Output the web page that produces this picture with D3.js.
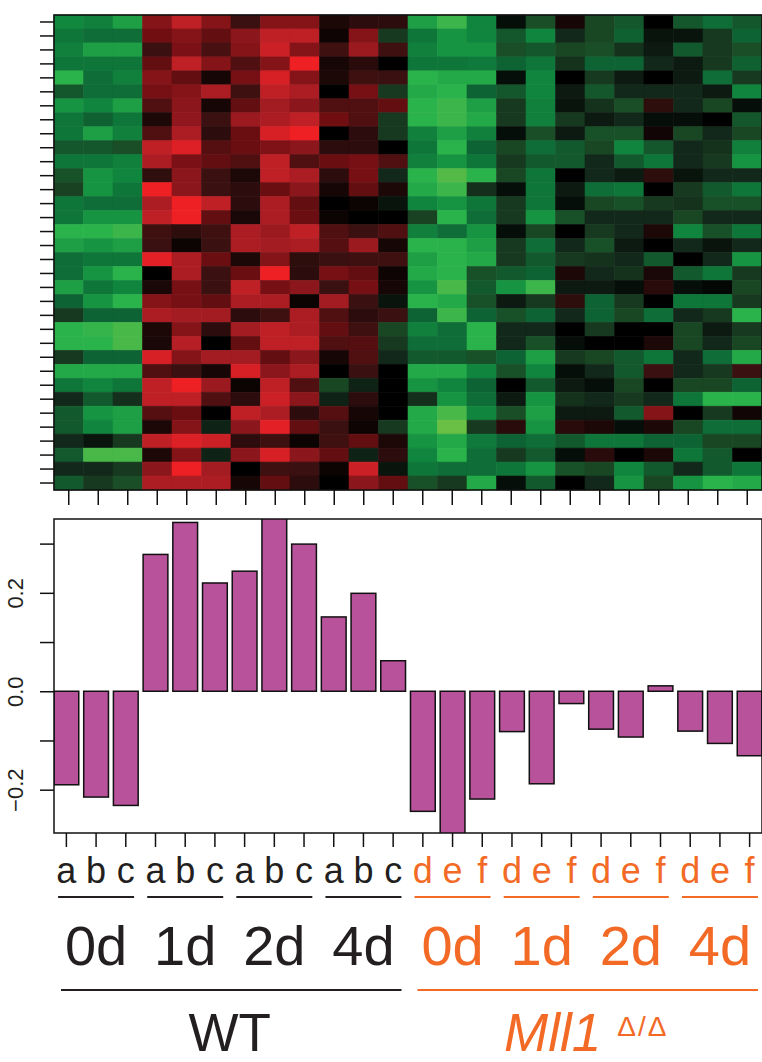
<!DOCTYPE html>
<html>
<head>
<meta charset="utf-8">
<script src="https://cdn.jsdelivr.net/npm/d3@7"></script>
<style>
  body { margin: 0; background: #fff; }
  svg { display: block; font-family: "Liberation Sans", Arial, sans-serif; }
</style>
</head>
<body>
<svg id="chart" width="762" height="1062"></svg>
<script>
// sample letters under each column / bar
const samples = ["a","b","c","a","b","c","a","b","c","a","b","c",
                 "d","e","f","d","e","f","d","e","f","d","e","f"]
const days = ["0d","1d","2d","4d","0d","1d","2d","4d"]
const genotypes = ["WT", "Mll1"]

// bar heights (second panel)
const barValues = [-0.190, -0.215, -0.232, 0.278, 0.343, 0.220, 0.244, 0.36, 0.299, 0.151, 0.199, 0.062,
                   -0.244, -0.30, -0.219, -0.082, -0.188, -0.025, -0.077, -0.093, 0.011, -0.081, -0.106, -0.131]
const yTicks = [-0.2, -0.1, 0, 0.1, 0.2, 0.3]
const yLabels = [-0.2, 0, 0.2]

// heatmap, 34 genes x 24 samples (negative = green, positive = red)
const heat = [
  [-8,-7.5,-9, 5,8,5, 2,5,5, 1,1.5,1.5, -9,-11,-7.8, -0.7,-4.3,0.8, -3.8,-5,0, -5,-6.5,-5],
  [-7,-6.5,-6.5, 4,5,3.5, 5.3,8,8, 0.5,5,-3, -7,-8.5,-7.8, -5,-7.8,-2, -3.8,-5.8,-1, -1,-3,-6],
  [-7.5,-9,-9, 2,4.5,2.5, 5,8.5,5, 2.2,6,2.2, -7.5,-8.5,-8.5, -4.3,-5,-3.8, -4.3,-2.6,-1.3, -5.2,-3,-4.3],
  [-7,-7,-7, 3.5,8,5, 2.8,5,10, 0.8,1.4,0, -7,-7,-7.2, -6,-7,-2.6, -6,-6,-2, -1.3,-3,-5.8],
  [-10,-6.5,-7.5, 5,3.5,0.8, 4.3,9,5, 1,2.2,2, -10,-9.5,-9.5, -0.7,-7.8,0, -3,-1.3,0, -1.3,-6.5,-3],
  [-5,-6.5,-6.5, 4.3,5,7, 2.2,8,7, 0,4.3,-3, -9.5,-10,-6, -5,-7.8,-1.3, -5,-2,-2, -2,-1.3,-7.8],
  [-8.5,-7.8,-9, 2.8,5.3,0.8, 3.5,6.5,5.3, 2.8,2.8,3.5, -10,-11,-9, -3,-7.5,-1, -2.6,-4.3,1.6, -2,-3.8,-0.7],
  [-7,-5.8,-7, 1,5.5,2, 6,7,8, 4,2.8,-3, -10,-11,-9.5, -3,-7.5,-3, -1.3,-2,-0.7, -0.7,0,-5],
  [-7,-9,-7.5, 2.8,7,1.5, 3.8,9,10, 0,1.5,-3, -7.5,-9,-7.5, -0.7,-4.3,-1.3, -4.5,-4.5,0.6, -3.8,-2,-3.8],
  [-5,-5,-4.3, 8,9.3,3, 3.8,4.7,5.3, 1.5,1.5,0, -7,-10,-6, -3.8,-6.5,-5.2, -3.8,-7.8,-5, -2,-2.6,-7.5],
  [-7,-7,-7.5, 7,4.5,3.5, 2.8,8,2.8, 3.8,4.3,2.8, -7.5,-8.5,-7, -3,-5.2,-5.2, -2,-5.2,-7, -2,-3,-8.5],
  [-4.6,-8.5,-7.8, 1.7,5.3,2, 1,8,7, 1.5,4.3,-2, -10,-12,-10, -3.8,-7,0, -2,-1.3,1.6, -1,-2,-2],
  [-3.5,-8.5,-7, 10,5.3,2, 1.5,3.8,5.3, 0.8,3.5,1, -9.5,-11,-2.4, -0.7,-7,-1.3, -6.5,-7,0, -3,-5.2,-7],
  [-7,-6.5,-6.5, 7,10,8, 1.5,7,3.5, 0,0.4,-1, -7.8,-8.5,-7, -3,-7,-0.7, -3.8,-4.5,-3, -2.6,-4.5,-4.5],
  [-7,-8.5,-8.5, 8,10,3.5, 0.9,7,3.8, 0.4,0,0, -3.5,-10,-6.5, -3,-8.5,-4.5, -2,-2,-2, -3.8,-2,-2],
  [-10,-10,-11, 2.2,1.6,2.2, 7,6,8, 2.8,2,2.8, -7.5,-6.5,-8.5, -0.7,-3.8,0, -3,-2,1, -7.8,-4.5,-7],
  [-9,-8.5,-9, 2,0.4,2, 7,6.5,7, 3,6,0.8, -10,-10,-9, -3,-6.5,-2, -4.5,-1.3,0, -2,-1,-2],
  [-6.5,-7,-7, 9.5,7,3.8, 1,5,1.6, 2,2.2,2.2, -9,-10,-9.5, -3,-5.2,-3, -2.6,-2,-5.2, 0,-2,-8.5],
  [-6.5,-8.5,-10, 0,7,2, 3.8,10,1.5, 4.3,3.5,0.5, -9.5,-10,-4.5, -5.2,-6,1, -2,-2.6,0.9, -5.2,-7,-3],
  [-9,-7,-7.8, 0.9,4.3,2, 8,4.3,5.3, 2,4.3,0.8, -8.5,-11.5,-5.2, -8.5,-11,-1.3, -1.3,-0.7,1.4, -0.7,-0.4,-3.8],
  [-6,-8.5,-10, 5,4.3,3.5, 7,7,0.4, 6.5,2,-1, -10,-9.5,-4.5, -1.3,-3,1.6, -6,-3,0, -7,-7,-3],
  [-3,-6,-6, 7,6.5,6.5, 1.5,2.2,7, 2.8,1.5,2, -6,-11,-6, -4.5,-6,-2, -6,-3.8,-6.5, -2,-3,-10],
  [-10,-10.5,-11.5, 1,5,1.5, 6.5,8,7, 3.5,2.2,-3.8, -7.5,-6.5,-10, -2,-2,0, -3,0,0, -3.8,-1.3,-3],
  [-10,-10,-11.5, 0.9,7.5,0, 3.5,8,8, 2.8,3,-3, -6.5,-6.5,-10, -2,-4.5,-0.7, 0,0,1, -3.8,-2,-3.8],
  [-3,-6,-6, 9,5,6.5, 6.5,3.5,5.3, 0.8,2.8,-2, -5.2,-5.2,-4.5, -6,-9,-3, -3.8,-5.2,-7, -2,-6.5,-9.5],
  [-9.5,-9.5,-9.5, 2.8,2,0.8, 9,5.3,7, 0,2,0, -9.5,-9.5,-7.8, -4.5,-7.8,-0.7, -2,-5.2,2, -2,-3,2],
  [-7,-7.8,-7, 8,10,6, 0.4,8,2.8, -3.8,-1.7,0, -8.5,-7.8,-6, 0,-5.2,-1.3, -0.7,-3.8,0, -3.8,-3.8,-6],
  [-2,-5.2,-2.4, 8,8,2.8, 1.5,8.5,5.3, -1.7,1.5,0, -2.4,-8.5,-6.5, -1.3,-8.5,-2.6, -2,-3,-2, -7,-10,-10],
  [-5.2,-8.5,-9, 3,3.8,0, 8,7,1.5, 3,0.8,0, -9.5,-11.5,-7.8, -4.3,-9,-1.3, -1.3,-5.2,5, 0,-3,0.6],
  [-5.2,-7.8,-9, 1,5,-1.7, 5.3,9.5,3.5, 2,0.5,-3, -9.5,-13,-3, 1.4,-8.5,1.4, 1,-0.7,1, -3.8,-6.5,-6.5],
  [-2,-1,-3, 8,9.3,8.5, 1.5,2.2,0.4, 2.2,3.5,1, -8.5,-9.5,-7.2, -6,-6.5,-5.2, -7,-7,-6, -6,-3.8,-3.8],
  [-5.2,-11.5,-11.5, 1,5,-1.7, 5.3,9,5.3, 3.5,-1.7,1.5, -7.8,-10,-6.5, -3,-5.2,-0.7, 1.4,0,1, -7,-5.2,0],
  [-2,-2,-3, 5.3,10,6.5, 0,2.2,2, 0.4,8.5,-1, -7,-6.5,-6.5, -7,-8.5,-4.5, -3.8,-7.8,-5.2, -2,-5.2,-7],
  [-5.2,-3,-4.3, 7,7,7, 0.8,3.5,1.5, 0,5.3,3.5, -4.5,-3,-9.5, -0.7,-5.2,0, -2,-8.5,-3.8, -8.5,-10,-9.5]
]

const ink = "#231f20"
const orange = "#f26a25"

const svg = d3.select("#chart")

const left = 54, right = 762
const colIdx = d3.range(samples.length)

// ---------- heatmap ----------
const hmTop = 15, hmBottom = 490

const xHeat = d3.scaleBand().domain(colIdx).range([left, right])
const yHeat = d3.scaleBand().domain(d3.range(heat.length)).range([hmTop, hmBottom])

const color = d3.scaleLinear()
    .domain([-13, -11, -10, -8, -6, -4, -2, 0, 2, 4, 6, 8, 10])
    .range(["#6abf45", "#3cb54a", "#2bb34b", "#10893f", "#0e6334", "#1b4a24", "#12281a",
            "#000000", "#3a1010", "#700e12", "#9a1a20", "#be2026", "#ee2024"])
    .clamp(true)

const cells = []
heat.forEach((row, r) => row.forEach((v, c) => cells.push({r: r, c: c, v: v})))

svg.append("g")
    .selectAll("rect")
    .data(cells)
    .enter()
    .append("rect")
    .attr("x", d => xHeat(d.c))
    .attr("y", d => yHeat(d.r))
    .attr("width", xHeat.bandwidth())
    .attr("height", yHeat.bandwidth())
    .attr("fill", d => color(d.v))
    .attr("stroke", d => color(d.v))
    .attr("stroke-width", 0.6)

svg.append("rect")
    .attr("x", left).attr("y", hmTop)
    .attr("width", right - left).attr("height", hmBottom - hmTop)
    .attr("fill", "none").attr("stroke", "#111").attr("stroke-width", 1.6)

const hmLeftAxis = svg.append("g")
    .attr("transform", `translate(${left},0)`)
    .call(d3.axisLeft(yHeat).tickSize(14).tickFormat(""))
const hmBottomAxis = svg.append("g")
    .attr("transform", `translate(0,${hmBottom})`)
    .call(d3.axisBottom(xHeat).tickSize(15).tickFormat(""))

// ---------- bar chart ----------
const bcTop = 519, bcBottom = 833

const xBar = d3.scaleBand().domain(colIdx).range([left, right])
    .paddingInner(0.2 / 1.2).paddingOuter(0)
const yBar = d3.scaleLinear().domain([-0.288, 0.35]).range([bcBottom, bcTop])

svg.append("clipPath").attr("id", "clipBars")
    .append("rect")
    .attr("x", left).attr("y", bcTop)
    .attr("width", right - left).attr("height", bcBottom - bcTop)

svg.append("g")
    .attr("clip-path", "url(#clipBars)")
    .selectAll("rect")
    .data(barValues)
    .enter()
    .append("rect")
    .attr("x", (d, i) => xBar(i))
    .attr("y", d => yBar(Math.max(0, d)))
    .attr("width", xBar.bandwidth())
    .attr("height", d => Math.abs(yBar(d) - yBar(0)))
    .attr("fill", "#b8529b")
    .attr("stroke", "#111")
    .attr("stroke-width", 1.5)

svg.append("rect")
    .attr("x", left).attr("y", bcTop)
    .attr("width", right - left).attr("height", bcBottom - bcTop)
    .attr("fill", "none").attr("stroke", "#111").attr("stroke-width", 1.5)

const yAxis = svg.append("g")
    .attr("transform", `translate(${left},0)`)
    .call(d3.axisLeft(yBar).tickValues(yTicks).tickSize(14)
        .tickFormat(d => yLabels.some(l => Math.abs(l - d) < 1e-9) ? d3.format(".1f")(d).replace("-", "\u2212") : ""))
yAxis.selectAll("text")
    .attr("transform", "rotate(-90)")
    .attr("x", 0).attr("y", -31).attr("dy", 0)
    .attr("text-anchor", "middle")
    .attr("font-size", 22)
    .attr("font-family", "Liberation Sans, Arial, sans-serif")
    .attr("fill", ink)

const barBottomAxis = svg.append("g")
    .attr("transform", `translate(0,${bcBottom})`)
    .call(d3.axisBottom(xBar).tickSize(14).tickFormat(""))

// common styling of the four axes
;[hmLeftAxis, hmBottomAxis, yAxis, barBottomAxis].forEach(ax => {
    ax.select(".domain").remove()
    ax.selectAll("line").attr("stroke", "#111").attr("stroke-width", 1.5)
})

// ---------- labels ----------
const sampleColor = i => i < 12 ? ink : orange

svg.append("g")
    .selectAll("text")
    .data(samples)
    .enter()
    .append("text")
    .attr("x", (d, i) => xBar(i) + xBar.bandwidth() / 2)
    .attr("y", 883)
    .attr("text-anchor", "middle")
    .attr("font-size", 36)
    .attr("fill", (d, i) => sampleColor(i))
    .text(d => d)

const groupCenter = g => (xBar(g * 3) + xBar(g * 3 + 2) + xBar.bandwidth()) / 2

const dayG = svg.append("g")
dayG.selectAll("line")
    .data(days)
    .enter()
    .append("line")
    .attr("x1", (d, g) => groupCenter(g) - 38)
    .attr("x2", (d, g) => groupCenter(g) + 38)
    .attr("y1", 897).attr("y2", 897)
    .attr("stroke", (d, g) => sampleColor(g * 3))
    .attr("stroke-width", 2)

dayG.selectAll("text")
    .data(days)
    .enter()
    .append("text")
    .attr("x", (d, g) => groupCenter(g))
    .attr("y", 965)
    .attr("text-anchor", "middle")
    .attr("font-size", 56)
    .attr("fill", (d, g) => sampleColor(g * 3))
    .text(d => d)

// genotype lines and names
const genoStart = k => xBar(k * 12)
const genoEnd = k => xBar(k * 12 + 11) + xBar.bandwidth()

svg.append("g")
    .selectAll("line")
    .data(genotypes)
    .enter()
    .append("line")
    .attr("x1", (d, k) => genoStart(k) + 7)
    .attr("x2", (d, k) => genoEnd(k) - 4)
    .attr("y1", 990).attr("y2", 990)
    .attr("stroke", (d, k) => k === 0 ? ink : orange)
    .attr("stroke-width", 2)

svg.append("text")
    .attr("x", (genoStart(0) + genoEnd(0)) / 2)
    .attr("y", 1051)
    .attr("text-anchor", "middle")
    .attr("font-size", 53)
    .attr("fill", ink)
    .text(genotypes[0])

const mll = svg.append("text")
    .attr("x", (genoStart(1) + genoEnd(1)) / 2)
    .attr("y", 1051)
    .attr("text-anchor", "middle")
    .attr("fill", orange)
mll.append("tspan")
    .attr("font-size", 53)
    .attr("font-style", "italic")
    .text(genotypes[1])
mll.append("tspan")
    .attr("font-size", 28)
    .attr("dx", 16)
    .attr("dy", -15)
    .attr("letter-spacing", 2)
    .text("\u0394/\u0394")
</script>
</body>
</html>
